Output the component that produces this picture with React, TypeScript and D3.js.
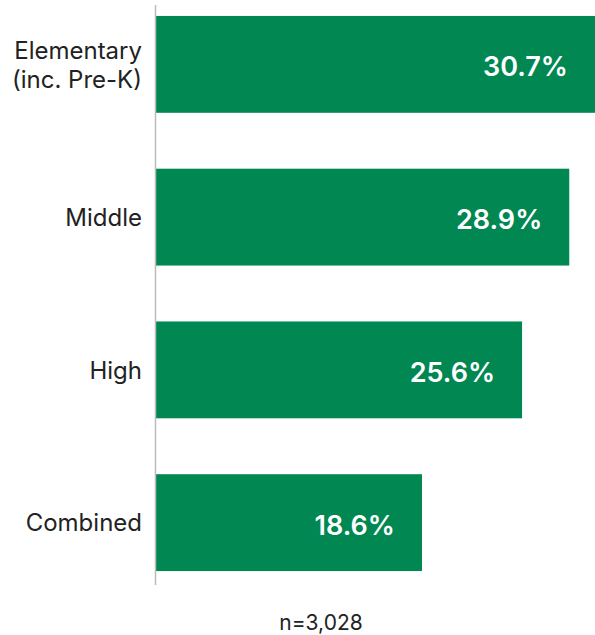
import React from "react";
import * as d3 from "d3";

const categories = ["Elementary\n(inc. Pre-K)", "Middle", "High", "Combined"];
const values = [30.7, 28.9, 25.6, 18.6];
const note = "n=3,028";

const W = 595;
const H = 635;
const x0 = 156;

export default function App() {
  const x = d3.scaleLinear().domain([0, 30.7]).range([x0, 595]);
  const y = d3
    .scaleBand<string>()
    .domain(categories)
    .range([-12, 599])
    .paddingInner(0.366)
    .paddingOuter(0.183);
  const font = "Inter, 'Noto Sans', sans-serif";
  return (
    <svg
      width={W}
      height={H}
      style={{ position: "absolute", left: 0, top: 0, background: "#fff" }}
    >
      {categories.map((c, i) => {
        const yy = y(c)!;
        const bw = y.bandwidth();
        const lines = c.split("\n");
        const cy = yy + bw / 2;
        return (
          <g key={c}>
            <rect x={x(0)} y={yy} width={x(values[i]) - x(0)} height={bw} fill="#008752" />
            <text
              x={x(values[i]) - 27}
              y={cy + 12}
              textAnchor="end"
              fill="#fff"
              fontFamily={font}
              fontWeight={600}
              fontSize={27}
            >
              {values[i].toFixed(1) + "%"}
            </text>
            <text
              textAnchor="end"
              fill="#222"
              fontFamily={font}
              fontSize={24}
            >
              {lines.map((l, j) => (
                <tspan key={j} x={142} y={cy + 8.7 + (j - (lines.length - 1) / 2) * 29}>
                  {l}
                </tspan>
              ))}
            </text>
          </g>
        );
      })}
      <line x1={x0 - 0.5} x2={x0 - 0.5} y1={5} y2={585} stroke="#bbb" strokeWidth={1.5} />
      <text x={321} y={630} textAnchor="middle" fill="#222" fontFamily={font} fontSize={21}>
        {note}
      </text>
    </svg>
  );
}
